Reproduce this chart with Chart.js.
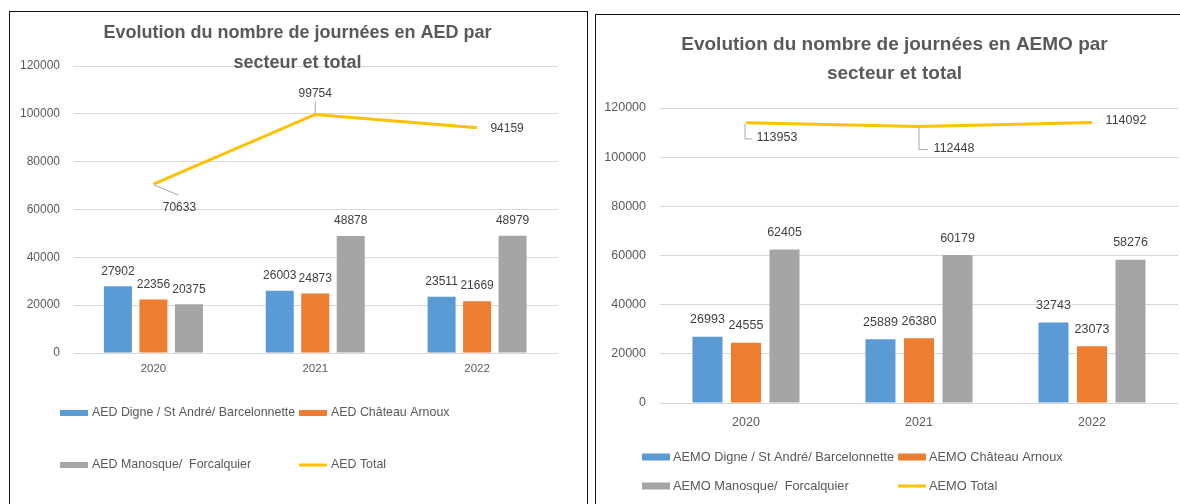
<!DOCTYPE html>
<html lang="fr">
<head>
<meta charset="utf-8">
<title>Evolution du nombre de journées AED / AEMO</title>
<script src="https://cdn.jsdelivr.net/npm/chart.js@4.4.1/dist/chart.umd.min.js"></script>
<style>
  html, body { margin: 0; padding: 0; background: #fff; }
  body { width: 1180px; height: 504px; overflow: hidden; position: relative; }
  .cadre { position: absolute; border: 1px solid #111; box-sizing: border-box; }
  #cadreAed { left: 9px; top: 11px; width: 579px; height: 520px; }
  #cadreAemo { left: 595px; top: 14px; width: 620px; height: 520px; }
  .zone { position: absolute; top: 0; width: 590px; height: 504px; }
  #zoneAed { left: 0; }
  #zoneAemo { left: 590px; }
</style>
</head>
<body>
<div class="cadre" id="cadreAed"></div>
<div class="cadre" id="cadreAemo"></div>
<div class="zone" id="zoneAed"><canvas id="chartAed"></canvas></div>
<div class="zone" id="zoneAemo"><canvas id="chartAemo"></canvas></div>

<script>
// Données
const annees = ['2020', '2021', '2022'];

const aedDigne    = [27902, 26003, 23511];
const aedChateau  = [22356, 24873, 21669];
const aedManosque = [20375, 48878, 48979];
const aedTotal    = [70633, 99754, 94159];

const aemoDigne    = [26993, 25889, 32743];
const aemoChateau  = [24555, 26380, 23073];
const aemoManosque = [62405, 60179, 58276];
const aemoTotal    = [113953, 112448, 114092];

const yMax = 120000;
const yPas = 20000;

// Couleurs Excel
const BLEU = '#5B9BD5';
const ORANGE = '#ED7D31';
const GRIS = '#A5A5A5';
const JAUNE = '#FFC000';
const FONT = "'Liberation Sans', Arial, sans-serif";

Chart.defaults.font.family = FONT;
Chart.defaults.color = '#595959';

// Titre centré sur le cadre (comme Excel, il peut chevaucher la zone de tracé)
const titreExcel = {
  id: 'titreExcel',
  afterDraw(chart, args, opts) {
    const ctx = chart.ctx;
    ctx.save();
    ctx.font = 'bold ' + opts.size + 'px ' + FONT;
    ctx.fillStyle = opts.color;
    ctx.textAlign = 'center';
    ctx.textBaseline = 'middle';
    opts.lignes.forEach((t, i) => ctx.fillText(t, opts.x, opts.y[i]));
    ctx.restore();
  }
};

// Etiquettes de valeurs (barres + courbe total)
const valueLabels = {
  id: 'valueLabels',
  afterDatasetsDraw(chart, args, opts) {
    const ctx = chart.ctx;
    ctx.save();
    ctx.font = opts.size + 'px ' + FONT;
    ctx.textAlign = 'center';
    ctx.textBaseline = 'middle';
    chart.data.datasets.forEach((ds, i) => {
      const meta = chart.getDatasetMeta(i);
      meta.data.forEach((el, j) => {
        const v = ds.data[j];
        if (ds.type === 'line') {
          const p = opts.line[j];
          if (p.leader) {
            ctx.strokeStyle = '#A6A6A6';
            ctx.lineWidth = 1;
            ctx.beginPath();
            p.leader.forEach((pt, k) => {
              if (k === 0) ctx.moveTo(el.x + pt[0], el.y + pt[1]);
              else ctx.lineTo(el.x + pt[0], el.y + pt[1]);
            });
            ctx.stroke();
          }
          ctx.fillStyle = opts.color;
          ctx.fillText(String(v), el.x + p.dx, el.y + p.dy);
        } else {
          ctx.fillStyle = opts.color;
          ctx.fillText(String(v), el.x, el.y - opts.barGap);
        }
      });
    });
    ctx.restore();
  }
};

// Légende en grille 2 x 2 comme dans Excel
const gridLegend = {
  id: 'gridLegend',
  afterDraw(chart, args, opts) {
    const ctx = chart.ctx;
    ctx.save();
    ctx.font = opts.size + 'px ' + FONT;
    ctx.textAlign = 'left';
    ctx.textBaseline = 'middle';
    chart.data.datasets.forEach((ds, i) => {
      const x = opts.cols[i % 2];
      const y = opts.rows[Math.floor(i / 2)];
      if (ds.type === 'line') {
        ctx.strokeStyle = ds.borderColor;
        ctx.lineWidth = 3;
        ctx.beginPath();
        ctx.moveTo(x, y);
        ctx.lineTo(x + opts.boxW, y);
        ctx.stroke();
      } else {
        ctx.fillStyle = ds.backgroundColor;
        ctx.fillRect(x, y - opts.boxH / 2, opts.boxW, opts.boxH);
      }
      ctx.fillStyle = opts.color;
      ctx.fillText(ds.label, x + opts.boxW + opts.gap, y);
    });
    ctx.restore();
  }
};

function creerGraphique(id, series, cfg) {
  const ctx = document.getElementById(id).getContext('2d');
  return new Chart(ctx, {
    data: {
      labels: annees,
      datasets: [
        { type: 'bar', label: series.noms[0], data: series.valeurs[0], backgroundColor: BLEU,
          categoryPercentage: cfg.catPct, barPercentage: cfg.barPct },
        { type: 'bar', label: series.noms[1], data: series.valeurs[1], backgroundColor: ORANGE,
          categoryPercentage: cfg.catPct, barPercentage: cfg.barPct },
        { type: 'bar', label: series.noms[2], data: series.valeurs[2], backgroundColor: GRIS,
          categoryPercentage: cfg.catPct, barPercentage: cfg.barPct },
        { type: 'line', label: series.noms[3], data: series.valeurs[3], borderColor: JAUNE,
          backgroundColor: JAUNE, borderWidth: 3, pointRadius: 0, tension: 0, fill: false }
      ]
    },
    options: {
      responsive: true,
      maintainAspectRatio: false,
      animation: false,
      layout: { padding: cfg.padding },
      scales: {
        x: {
          grid: { display: false, drawTicks: false },
          border: { display: false },
          ticks: { padding: cfg.xPad, font: { size: cfg.xSize }, color: '#595959' },
          afterFit: (s) => { s.height = 30; }
        },
        y: {
          min: 0,
          max: yMax,
          ticks: {
            stepSize: yPas,
            padding: cfg.yPad,
            font: { size: cfg.ySize },
            color: '#595959',
            callback: (v) => String(v)
          },
          grid: { color: '#D9D9D9', lineWidth: 1, drawTicks: false },
          border: { display: false },
          afterFit: (s) => { s.width = cfg.yWidth; }
        }
      },
      plugins: {
        legend: { display: false },
        tooltip: { enabled: false },
        title: { display: false },
        titreExcel: cfg.titre,
        valueLabels: cfg.labels,
        gridLegend: cfg.legende
      }
    },
    plugins: [titreExcel, valueLabels, gridLegend]
  });
}

// Graphique AED
creerGraphique('chartAed', {
  noms: ['AED Digne / St André/ Barcelonnette', 'AED Château Arnoux', 'AED Manosque/  Forcalquier', 'AED Total'],
  valeurs: [aedDigne, aedChateau, aedManosque, aedTotal]
}, {
  titre: { lignes: ['Evolution du nombre de journées en AED par', 'secteur et total'],
           x: 297.5, y: [33, 63], size: 18, color: '#595959' },
  padding: { left: 10, right: 32, top: 66, bottom: 121 },
  yWidth: 62.5,
  yPad: 12.5,
  ySize: 12,
  xPad: 9,
  xSize: 11.5,
  catPct: 0.658,
  barPct: 0.789,
  labels: {
    size: 12, color: '#404040', barGap: 15,
    line: [
      { dx: 26, dy: 24, leader: [[1, 1], [25, 11]] },
      { dx: 0, dy: -21, leader: [[0, -1], [0, -13]] },
      { dx: 30, dy: 1 }
    ]
  },
  legende: { cols: [60, 299], rows: [413, 465], boxW: 28, boxH: 6, gap: 4, size: 12.4, color: '#595959' }
});

// Graphique AEMO
creerGraphique('chartAemo', {
  noms: ['AEMO Digne / St André/ Barcelonnette', 'AEMO Château Arnoux', 'AEMO Manosque/  Forcalquier', 'AEMO Total'],
  valeurs: [aemoDigne, aemoChateau, aemoManosque, aemoTotal]
}, {
  titre: { lignes: ['Evolution du nombre de journées en AEMO par', 'secteur et total'],
           x: 304.5, y: [45, 74], size: 19, color: '#595959' },
  padding: { left: 8, right: 1.5, top: 108, bottom: 71 },
  yWidth: 61.5,
  yPad: 13.5,
  ySize: 12.5,
  xPad: 12,
  xSize: 12.5,
  catPct: 0.668,
  barPct: 0.779,
  labels: {
    size: 12.5, color: '#404040', barGap: 17,
    line: [
      { dx: 31, dy: 15, leader: [[-1, 1], [-1, 16], [6, 16]] },
      { dx: 35, dy: 22, leader: [[0, 1], [0, 23], [9, 23]] },
      { dx: 34, dy: -2 }
    ]
  },
  legende: { cols: [52, 308], rows: [457, 486], boxW: 28, boxH: 7, gap: 3, size: 12.8, color: '#595959' }
});
</script>
</body>
</html>
